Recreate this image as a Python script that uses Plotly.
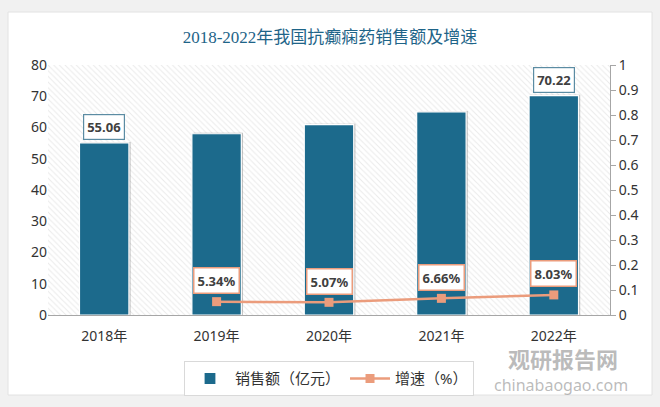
import plotly.graph_objects as go

years = ["2018年", "2019年", "2020年", "2021年", "2022年"]
sales = [55.06, 58.0, 60.94, 65.0, 70.22]
growth_years = ["2019年", "2020年", "2021年", "2022年"]
growth = [0.0534, 0.0507, 0.0666, 0.0803]
growth_labels = ["5.34%", "5.07%", "6.66%", "8.03%"]
sales_label_years = ["2018年", "2022年"]
sales_label_text = ["55.06", "70.22"]

BAR = "#1c6a8c"
LINE = "#eb9c7c"
FONT = "Noto Sans, Noto Sans CJK SC, sans-serif"

fig = go.Figure()

# hatched background on base axes
fig.add_trace(go.Bar(
    x=[0.5], y=[1], width=[1], xaxis="x", yaxis="y",
    marker=dict(color="white", line=dict(width=0),
                pattern=dict(shape="\\", fgcolor="#d6d6d6", bgcolor="white", size=4, solidity=0.25)),
    showlegend=False, hoverinfo="skip"))

# soft shadow behind bars
fig.add_trace(go.Bar(
    x=years, y=[v + 0.3 for v in sales], xaxis="x2", yaxis="y2", width=0.44, offset=-0.205,
    marker=dict(color="rgba(90,90,90,0.35)", line=dict(width=0)),
    showlegend=False, hoverinfo="skip"))

fig.add_trace(go.Bar(
    x=years, y=sales, name="销售额（亿元）", xaxis="x2", yaxis="y2",
    width=0.44, offset=-0.22, marker=dict(color=BAR, line=dict(color="white", width=1.2))))

fig.add_trace(go.Scatter(
    x=growth_years, y=growth, name="增速（%）", xaxis="x2", yaxis="y3",
    mode="lines+markers", line=dict(color=LINE, width=2.5),
    marker=dict(symbol="square", size=9, color=LINE)))

annotations = []
for yr, txt in zip(sales_label_years, sales_label_text):
    v = sales[years.index(yr)]
    annotations.append(dict(x=yr, y=v, xref="x2", yref="y2", text="<b>" + txt + "</b>",
                            showarrow=False, yshift=16, bgcolor="white", bordercolor="#5b8ca3",
                            borderwidth=1.2, borderpad=3, font=dict(size=13, color="#404040", family=FONT)))
for yr, v, txt in zip(growth_years, growth, growth_labels):
    annotations.append(dict(x=yr, y=v, xref="x2", yref="y3", text="<b>" + txt + "</b>",
                            showarrow=False, yshift=21, bgcolor="white", bordercolor=LINE,
                            borderwidth=1.5, borderpad=3, font=dict(size=13, color="#404040", family=FONT)))

# watermark
annotations.append(dict(x=(563 - 48) / 562, y=-0.17, xref="paper", yref="paper", text="<b>观研报告网</b>",
                        xanchor="center", yanchor="middle",
                        showarrow=False, font=dict(size=22, color="rgba(120,120,120,0.5)", family="Noto Sans CJK SC")))
annotations.append(dict(x=(561 - 48) / 562, y=-0.278, xref="paper", yref="paper", text="chinabaogao.com",
                        xanchor="center", yanchor="middle",
                        showarrow=False, font=dict(size=16, color="rgba(120,120,120,0.5)", family=FONT)))

fig.update_layout(
    width=660, height=407,
    margin=dict(l=48, r=50, t=65, b=92, autoexpand=False),
    paper_bgcolor="#f1f1f1", plot_bgcolor="white",
    title=dict(text="2018-2022年我国抗癫痫药销售额及增速", x=0.5, xanchor="center", y=0.91, yanchor="middle",
               font=dict(size=17, color="#1e6488", family="Liberation Serif, Noto Sans CJK SC")),
    xaxis=dict(range=[0, 1], visible=False, fixedrange=True),
    yaxis=dict(range=[0, 1], visible=False, fixedrange=True),
    xaxis2=dict(overlaying="x", type="category", showgrid=False, showline=True, linecolor="#a6a6a6",
                linewidth=1, ticks="", ticklabelstandoff=8,
                tickfont=dict(size=14, color="#333333", family=FONT)),
    yaxis2=dict(overlaying="y", side="left", range=[0, 80], dtick=10, showgrid=False, zeroline=False,
                showline=False, tickfont=dict(size=14, color="#333333", family=FONT)),
    yaxis3=dict(overlaying="y", side="right", range=[0, 1], dtick=0.1, showgrid=False, zeroline=False,
                showline=True, linecolor="#a6a6a6", ticks="outside", ticklen=5, tickcolor="#a6a6a6",
                tickfont=dict(size=14, color="#333333", family=FONT)),
    barmode="overlay",
    legend=dict(orientation="h", x=0.5, xanchor="center", y=-0.185, yanchor="top",
                bordercolor="#d9d9d9", borderwidth=1, bgcolor="white",
                font=dict(size=15, color="#333333", family=FONT), itemwidth=40),
    annotations=annotations,
    shapes=[dict(type="rect", xref="paper", yref="paper", layer="below",
                 x0=-40 / 562, x1=(652 - 48) / 562, y0=(315 - 395) / 250, y1=(315 - 12) / 250,
                 fillcolor="white", line=dict(color="#e2e2e2", width=1))],
)

fig.write_html("out.html", config={"displayModeBar": False},
               post_script="document.body.style.margin='0';")
